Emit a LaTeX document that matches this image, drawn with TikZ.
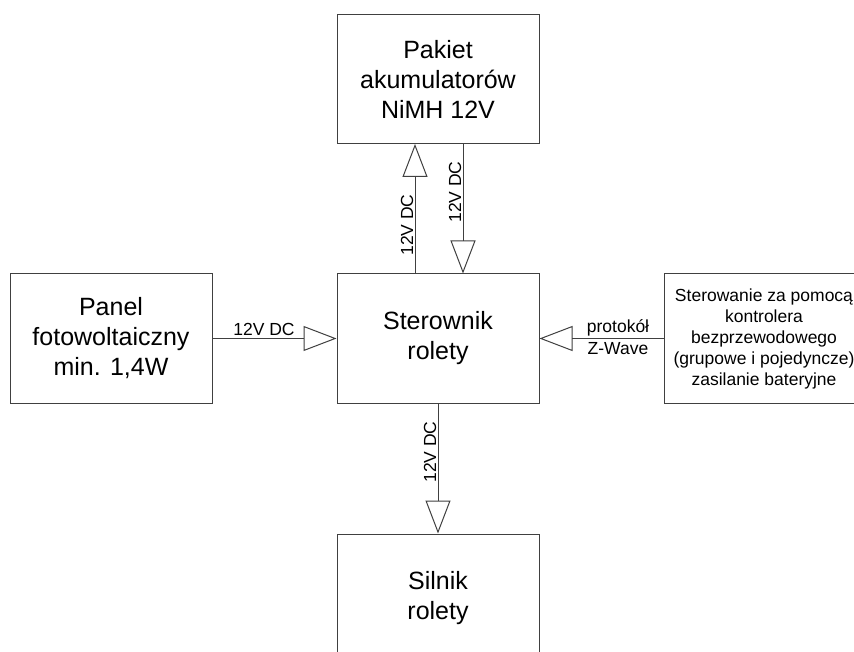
\documentclass[tikz,border=0pt]{standalone}
\usepackage{fontspec}
\setmainfont{Liberation Sans}
\usetikzlibrary{arrows.meta}
\begin{document}
\begin{tikzpicture}[x=1pt,y=-1pt,
  box/.style={draw=black!75, line width=1pt, minimum width=202pt, minimum height=129pt,
    align=center, inner sep=0pt, font=\fontsize{25}{30}\selectfont},
  smallbox/.style={box, minimum width=200pt, font=\fontsize{17.5}{21}\selectfont},
  lbl/.style={font=\fontsize{17.5}{21}\selectfont, inner sep=1.5pt},
  conn/.style={draw=black!75, line width=1pt,
    -{Triangle[open, length=33pt, width=25pt, line width=1pt]}}]
\useasboundingbox (0,0) rectangle (854,652);
\clip (0,0) rectangle (854,652);
\fill[white] (0,0) rectangle (854,652);

\node[box] (bat) at (438,79) {Pakiet\\akumulatorów\\NiMH 12V};
\node[box] (ctrl) at (438,338.5) {Sterownik\\rolety};
\node[box] (pv) at (111,338.5) {Panel\\fotowoltaiczny\\min. 1,4W};
\node[smallbox] (rc) at (764,338.5) {Sterowanie za pomocą\\kontrolera\\bezprzewodowego\\(grupowe i pojedyncze)\\zasilanie bateryjne};
\node[box] (mot) at (438,598.5) {Silnik\\rolety};

\draw[conn] ([xshift=-23pt]ctrl.north) -- ([xshift=-23pt]bat.south);
\draw[conn] ([xshift=25pt]bat.south) -- ([xshift=25pt]ctrl.north);
\draw[conn] (pv.east) -- (ctrl.west);
\draw[conn] (rc.west) -- (ctrl.east);
\draw[conn] (ctrl.south) -- (mot.north);

\node[lbl, rotate=90, anchor=south] (l1) at (415,225) {12V DC};
\node[lbl, rotate=90, anchor=south] (l2) at (463,192) {12V DC};
\node[lbl, rotate=90, anchor=south] (l3) at (438,452) {12V DC};
\node[lbl, anchor=south, inner sep=3.5pt] (l4) at (264,339) {12V DC};
\node[lbl, anchor=base, inner sep=0pt] (l5) at (618,333) {protokół};
\node[lbl, anchor=base, inner sep=0pt] (l6) at (618,354) {Z-Wave};
\end{tikzpicture}
\end{document}
